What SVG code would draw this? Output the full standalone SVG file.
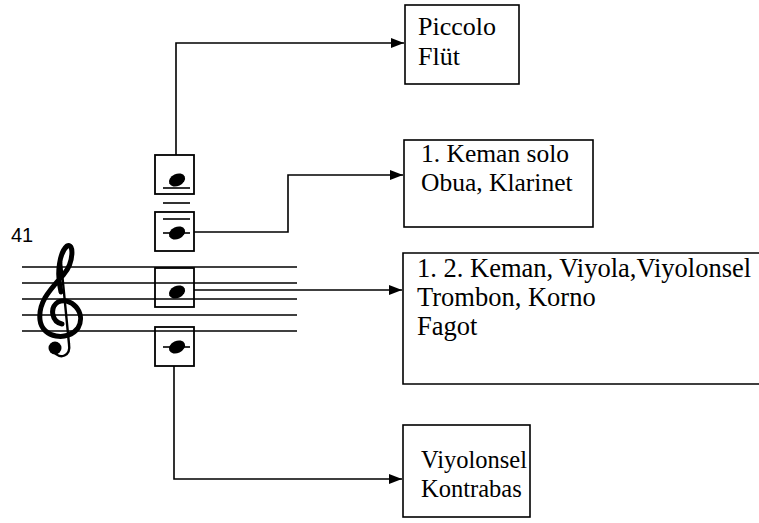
<svg xmlns="http://www.w3.org/2000/svg" width="759" height="523" viewBox="0 0 759 523">
<style>
.box{fill:#fff;stroke:#000;stroke-width:1.6}
.nb{fill:none;stroke:#000;stroke-width:1.8}
.txt{font-family:"Liberation Serif","Times New Roman",serif;font-size:26px;fill:#000}
.num{font-family:"Liberation Sans",Arial,sans-serif;font-size:20px;fill:#000}
.staff{stroke:#000;stroke-width:1.6}
.led{stroke:#000;stroke-width:1.6}
.con{fill:none;stroke:#000;stroke-width:1.6}
</style>
<defs>
<marker id="arr" viewBox="0 0 13 10" refX="13" refY="5" markerWidth="13" markerHeight="10" markerUnits="userSpaceOnUse" orient="auto">
<path d="M0,0 L13,5 L0,10 Z" fill="#000"/>
</marker>
<ellipse id="head" rx="8.5" ry="6" transform="rotate(-25)" fill="#000"/>
</defs>
<rect width="759" height="523" fill="#fff"/>

<g id="staff">
<text class="num" x="11" y="242">41</text>
<line class="staff" x1="22" y1="267" x2="297" y2="267"/>
<line class="staff" x1="22" y1="283" x2="297" y2="283"/>
<line class="staff" x1="22" y1="299" x2="297" y2="299"/>
<line class="staff" x1="22" y1="315" x2="297" y2="315"/>
<line class="staff" x1="22" y1="331" x2="297" y2="331"/>
<g id="clef">
<path d="M61,262 L69,344 C71,356 60,360 54,352" fill="none" stroke="#000" stroke-width="2.4"/>
<circle cx="55" cy="348" r="6.5" fill="#000"/>
<path d="M61,292 C56,272 60,252 67,246 C74,242 74,262 64,274 C50,290 38,302 40,320 C42,338 68,342 78,328 C87,312 70,296 58,302 C49,308 52,322 62,324" fill="none" stroke="#000" stroke-width="5" stroke-linecap="round"/>
</g>
</g>

<g id="note1">
<rect class="nb" x="155" y="155" width="39" height="39"/>
<use href="#head" x="177" y="180"/>
<line class="led" x1="163" y1="188" x2="190" y2="188"/>
</g>
<line class="led" x1="163" y1="203" x2="190" y2="203"/>
<g id="note2">
<rect class="nb" x="155" y="212" width="39" height="39"/>
<line class="led" x1="163" y1="219" x2="190" y2="219"/>
<use href="#head" x="177" y="233"/>
<line class="led" x1="163" y1="233" x2="190" y2="233"/>
</g>
<g id="note3">
<rect class="nb" x="155" y="268" width="39" height="39"/>
<use href="#head" x="177" y="292"/>
</g>
<g id="note4">
<rect class="nb" x="155" y="327" width="39" height="39"/>
<use href="#head" x="177" y="347"/>
<line class="led" x1="163" y1="347" x2="190" y2="347"/>
</g>

<g id="piccolo">
<rect class="box" x="405" y="5" width="114" height="79"/>
<text class="txt" x="418" y="35" style="font-size:26px">Piccolo</text>
<text class="txt" x="418" y="65" style="font-size:26px">Flüt</text>
</g>
<g id="keman-solo">
<rect class="box" x="404" y="140" width="189" height="87"/>
<text class="txt" x="421" y="162" style="font-size:25.5px">1. Keman solo</text>
<text class="txt" x="421" y="191" style="font-size:25.5px">Obua, Klarinet</text>
</g>
<g id="keman-viyola">
<path class="box" d="M770,253 L403,253 L403,384 L770,384"/>
<text class="txt" x="417" y="277" style="font-size:26.5px">1. 2. Keman, Viyola,Viyolonsel</text>
<text class="txt" x="417" y="306" style="font-size:26.5px">Trombon, Korno</text>
<text class="txt" x="417" y="335" style="font-size:26.5px">Fagot</text>
</g>
<g id="kontrabas">
<rect class="box" x="403" y="425" width="127" height="92"/>
<text class="txt" x="421" y="468" style="font-size:24.5px">Viyolonsel</text>
<text class="txt" x="421" y="497" style="font-size:24.5px">Kontrabas</text>
</g>

<g id="connectors">
<path class="con" d="M176,155 L176,43 L404,43" marker-end="url(#arr)"/>
<path class="con" d="M194,232 L288,232 L288,175 L403,175" marker-end="url(#arr)"/>
<path class="con" d="M194,290 L402,290" marker-end="url(#arr)"/>
<path class="con" d="M174,366 L174,479 L402,479" marker-end="url(#arr)"/>
</g>
</svg>
